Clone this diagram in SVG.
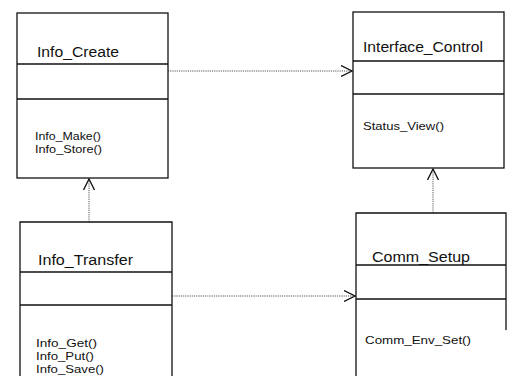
<svg xmlns="http://www.w3.org/2000/svg" width="507" height="376" viewBox="0 0 507 376">
  <style>
    .box { fill: #ffffff; stroke: #111111; stroke-width: 1.3; }
    .div { stroke: #111111; stroke-width: 1.3; fill: none; }
    .title { font-family: "Liberation Sans", Arial, sans-serif; font-size: 14px; fill: #111111; }
    .op { font-family: "Liberation Sans", Arial, sans-serif; font-size: 11px; fill: #111111; }
    .dep { stroke: #555555; stroke-width: 1; stroke-dasharray: 1.2 1; fill: none; }
  </style>
  <defs>
    <marker id="open" viewBox="0 0 12 12" refX="11" refY="6" markerWidth="12" markerHeight="12" markerUnits="userSpaceOnUse" orient="auto">
      <path d="M0,0.5 L11,6 L0,11.5" fill="none" stroke="#111111" stroke-width="1.3"/>
    </marker>
  </defs>
  <rect width="507" height="376" fill="#ffffff"/>

  <!-- dependency arrows -->
  <g id="connectors">
    <line class="dep" x1="168" y1="71" x2="352" y2="71" marker-end="url(#open)"/>
    <line class="dep" x1="89" y1="222" x2="89" y2="179" marker-end="url(#open)"/>
    <line class="dep" x1="172" y1="296" x2="355" y2="296" marker-end="url(#open)"/>
    <line class="dep" x1="433" y1="213" x2="433" y2="169" marker-end="url(#open)"/>
  </g>

  <g id="info_create">
    <rect class="box" x="17" y="13" width="151" height="165"/>
    <line class="div" x1="17" y1="64" x2="168" y2="64"/>
    <line class="div" x1="17" y1="99" x2="168" y2="99"/>
    <text class="title" x="37" y="57" textLength="82" lengthAdjust="spacingAndGlyphs">Info_Create</text>
    <text class="op" x="35" y="140" textLength="66" lengthAdjust="spacingAndGlyphs">Info_Make()</text>
    <text class="op" x="35" y="153" textLength="67" lengthAdjust="spacingAndGlyphs">Info_Store()</text>
  </g>

  <g id="interface_control">
    <rect class="box" x="353" y="12" width="151" height="156"/>
    <line class="div" x1="353" y1="61" x2="504" y2="61"/>
    <line class="div" x1="353" y1="94" x2="504" y2="94"/>
    <text class="title" x="363" y="52" textLength="120" lengthAdjust="spacingAndGlyphs">Interface_Control</text>
    <text class="op" x="363" y="130" textLength="81" lengthAdjust="spacingAndGlyphs">Status_View()</text>
  </g>

  <g id="info_transfer">
    <path class="div" d="M20,380 V222 H172 V380"/>
    <line class="div" x1="20" y1="272" x2="172" y2="272"/>
    <line class="div" x1="20" y1="305" x2="172" y2="305"/>
    <text class="title" x="38" y="265" textLength="95" lengthAdjust="spacingAndGlyphs">Info_Transfer</text>
    <text class="op" x="36" y="347" textLength="61" lengthAdjust="spacingAndGlyphs">Info_Get()</text>
    <text class="op" x="36" y="360" textLength="58" lengthAdjust="spacingAndGlyphs">Info_Put()</text>
    <text class="op" x="36" y="373" textLength="68" lengthAdjust="spacingAndGlyphs">Info_Save()</text>
  </g>

  <g id="comm_setup">
    <path class="div" d="M356,380 V213 H506 V330"/>
    <line class="div" x1="356" y1="265" x2="506" y2="265"/>
    <line class="div" x1="356" y1="299" x2="506" y2="299"/>
    <text class="title" x="372" y="262" textLength="98" lengthAdjust="spacingAndGlyphs">Comm_Setup</text>
    <text class="op" x="365" y="344" textLength="106" lengthAdjust="spacingAndGlyphs">Comm_Env_Set()</text>
  </g>
</svg>
